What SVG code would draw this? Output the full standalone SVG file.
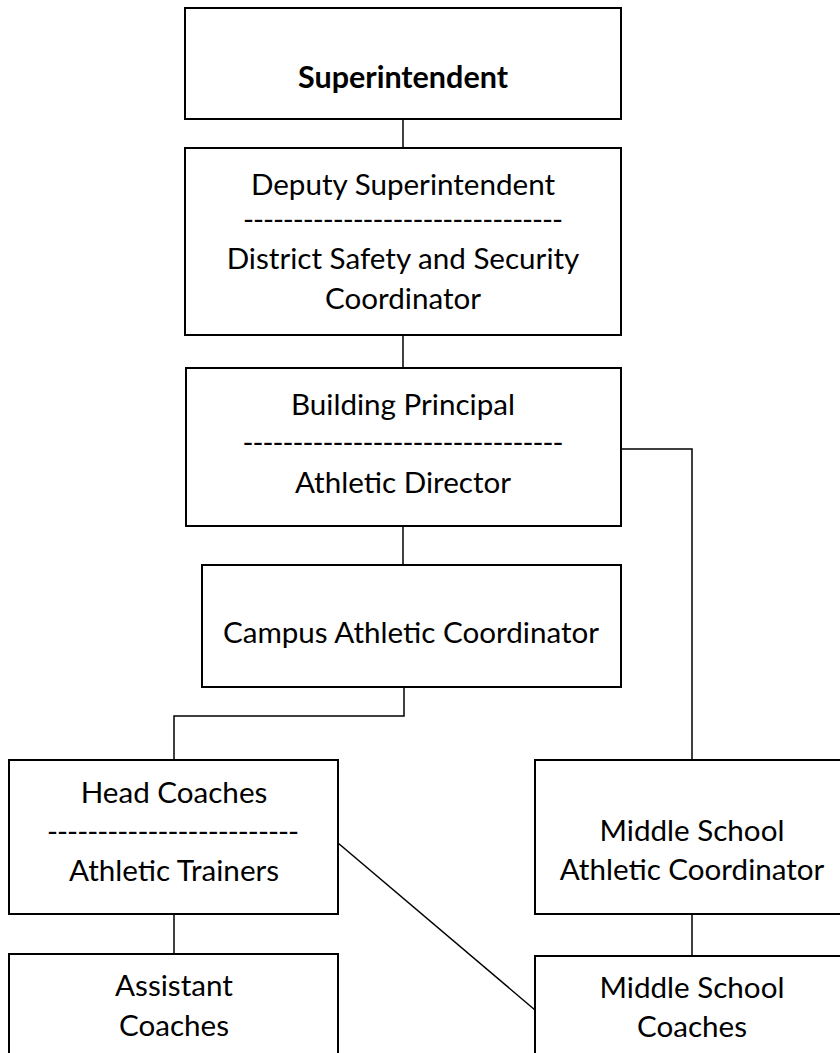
<svg xmlns="http://www.w3.org/2000/svg" width="840" height="1053" viewBox="0 0 840 1053">
<style>
.box{fill:#fff;stroke:#000;stroke-width:2}
.t{font-family:Lato,"Liberation Sans",sans-serif;font-size:29.6px;fill:#000;text-anchor:middle}
.b{font-weight:bold;font-size:30.5px}
.c{fill:none;stroke:#000;stroke-width:1.5}
</style>
<rect width="840" height="1053" fill="#fff"/>
<g id="connectors">
<line class="c" x1="403" y1="119" x2="403" y2="148"/>
<line class="c" x1="403" y1="335" x2="403" y2="368"/>
<line class="c" x1="403" y1="526" x2="403" y2="565"/>
<polyline class="c" points="621,449 692,449 692,760"/>
<polyline class="c" points="404,687 404,716 174,716 174,760"/>
<line class="c" x1="174" y1="914" x2="174" y2="954"/>
<line class="c" x1="692" y1="914" x2="692" y2="956"/>
<line class="c" x1="338" y1="843" x2="535" y2="1010"/>
</g>
<g id="superintendent">
<rect class="box" x="185" y="8" width="436" height="111"/>
<text class="t b" x="403" y="88">Superintendent</text>
</g>
<g id="deputy">
<rect class="box" x="185" y="148" width="436" height="187"/>
<text class="t" x="403" y="195">Deputy Superintendent</text>
<text class="t" x="403" y="230" textLength="320">--------------------------------</text>
<text class="t" x="403" y="269">District Safety and Security</text>
<text class="t" x="403" y="309">Coordinator</text>
</g>
<g id="principal">
<rect class="box" x="186" y="368" width="435" height="158"/>
<text class="t" x="403" y="415">Building Principal</text>
<text class="t" x="403" y="453" textLength="321">--------------------------------</text>
<text class="t" x="403" y="493">Athletic Director</text>
</g>
<g id="campus">
<rect class="box" x="202" y="565" width="419" height="122"/>
<text class="t" x="411" y="643">Campus Athletic Coordinator</text>
</g>
<g id="head-coaches">
<rect class="box" x="9" y="760" width="329" height="154"/>
<text class="t" x="174" y="803">Head Coaches</text>
<text class="t" x="173" y="842" textLength="252">-------------------------</text>
<text class="t" x="174" y="881">Athletic Trainers</text>
</g>
<g id="assistant-coaches">
<rect class="box" x="9" y="954" width="329" height="120"/>
<text class="t" x="174" y="996">Assistant</text>
<text class="t" x="174" y="1036">Coaches</text>
</g>
<g id="ms-coordinator">
<rect class="box" x="535" y="760" width="320" height="154"/>
<text class="t" x="692" y="841">Middle School</text>
<text class="t" x="692" y="880">Athletic Coordinator</text>
</g>
<g id="ms-coaches">
<rect class="box" x="535" y="956" width="320" height="120"/>
<text class="t" x="692" y="998">Middle School</text>
<text class="t" x="692" y="1037">Coaches</text>
</g>
</svg>
